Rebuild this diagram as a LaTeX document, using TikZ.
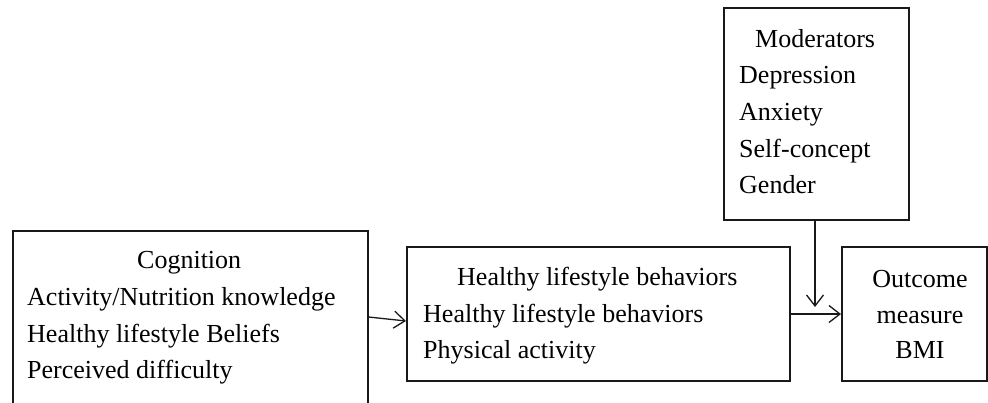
\documentclass[tikz,border=0pt]{standalone}
\usepackage{fontspec}
\setmainfont{Liberation Serif}
\usetikzlibrary{arrows.meta}
\begin{document}
\begin{tikzpicture}[x=1pt,y=-1pt,
  box/.style={draw=black!90,line width=1.6pt,rectangle,inner sep=0pt,anchor=north west},
  txt/.style={inner sep=0pt,anchor=base west,font=\fontsize{26}{36}\selectfont},
  ctxt/.style={inner sep=0pt,anchor=base,font=\fontsize{26}{36}\selectfont},
  arr/.style={draw=black!90,line width=1.3pt,-{Straight Barb[length=11pt,width=17pt,line width=1.3pt]}}
]
\useasboundingbox (0,0) rectangle (988,402);
\clip (0,0) rectangle (988,402);
\node[box,minimum width=355pt,minimum height=200pt] (cog) at (12,230) {};
\node[box,minimum width=383pt,minimum height=134pt] (mid) at (406,246) {};
\node[box,minimum width=145pt,minimum height=134pt] (out) at (841,246) {};
\node[box,minimum width=185pt,minimum height=212pt] (mod) at (723,7) {};

\node[txt] (c1) at (137,268) {Cognition};
\node[txt] (c2) at (27,305) {Activity/Nutrition knowledge};
\node[txt] (c3) at (27,342) {Healthy lifestyle Beliefs};
\node[txt] (c4) at (27,378) {Perceived difficulty};

\node[txt] (h1) at (457,285) {Healthy lifestyle behaviors};
\node[txt] (h2) at (423,322) {Healthy lifestyle behaviors};
\node[txt] (h3) at (423,358) {Physical activity};

\node[ctxt] (o1) at (920,287) {Outcome};
\node[ctxt] (o2) at (920,323) {measure};
\node[ctxt] (o3) at (920,358) {BMI};

\node[txt] (m1) at (755,47) {Moderators};
\node[txt] (m2) at (739,83) {Depression};
\node[txt] (m3) at (739,120) {Anxiety};
\node[txt] (m4) at (739,157) {Self-concept};
\node[txt] (m5) at (739,193) {Gender};

\coordinate (ya) at (0,317);
\coordinate (yb) at (0,321);
\coordinate (yc) at (0,314);
\coordinate (mt) at (815,307);
\draw[arr] (cog.east |- ya) -- (mid.west |- yb);
\draw[arr] (mid.east |- yc) -- (out.west |- yc);
\draw[arr] (mod.south -| mt) -- (mt);
\end{tikzpicture}
\end{document}
